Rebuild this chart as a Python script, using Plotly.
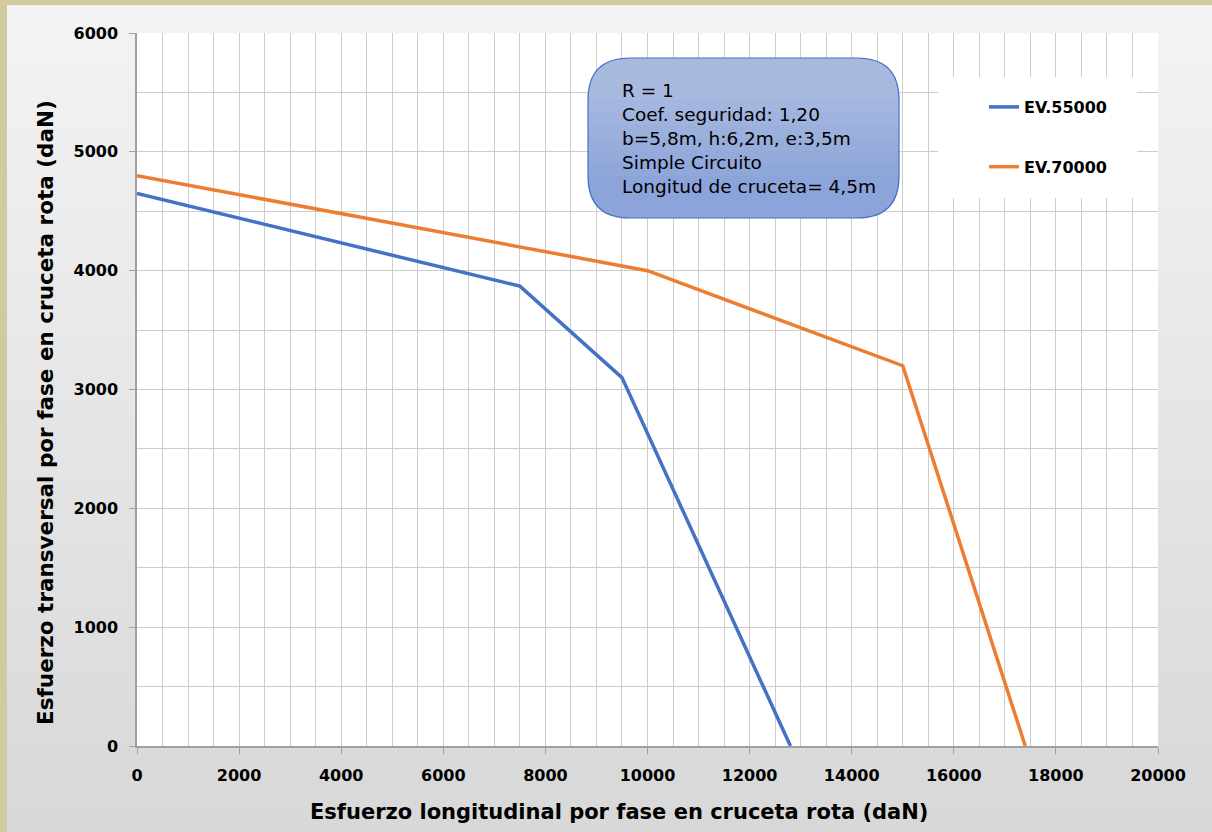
import plotly.graph_objects as go

# (daN)
ev55_x = [0, 7500, 9500, 12800]
ev55_y = [4650, 3870, 3100, 0]
ev70_x = [0, 10000, 15000, 17400]
ev70_y = [4800, 4000, 3200, 0]

series_names = ["EV.55000", "EV.70000"]
series_colors = ["#4472C4", "#ED7D31"]

x_ticks = [0, 2000, 4000, 6000, 8000, 10000, 12000, 14000, 16000, 18000, 20000]
y_ticks = [0, 1000, 2000, 3000, 4000, 5000, 6000]

x_title = "Esfuerzo longitudinal por fase en cruceta rota (daN)"
y_title = "Esfuerzo transversal por fase en cruceta rota (daN)"

note_lines = [
    "R = 1",
    "Coef. seguridad: 1,20",
    "b=5,8m, h:6,2m, e:3,5m",
    "Simple Circuito",
    "Longitud de cruceta= 4,5m",
]

W, H = 1212, 832
L, R, T, B = 137, 1158, 33, 746  # plot area in pixels


def px(x):
    return (x - L) / (R - L)


def py(y):
    return (B - y) / (B - T)


fig = go.Figure()
for xs, ys, name, col in [(ev55_x, ev55_y, series_names[0], series_colors[0]),
                          (ev70_x, ev70_y, series_names[1], series_colors[1])]:
    fig.add_trace(go.Scatter(x=xs, y=ys, mode="lines", name=name, legendgroup=name,
                             line=dict(color=col, width=3.5)))

shapes = []
# tan frame + chart-area gradient
shapes.append(dict(type="rect", xref="paper", yref="paper", x0=px(0), x1=px(W), y0=py(H), y1=py(0),
                   fillcolor="#CFCB9C", line_width=0, layer="below"))
n = 40
top, bot = 5, H
for i in range(n):
    y0 = top + (bot - top) * i / n
    y1 = top + (bot - top) * (i + 1) / n
    t = i / (n - 1)
    c = int(round(243 + (216 - 243) * t))
    shapes.append(dict(type="rect", xref="paper", yref="paper", x0=px(7), x1=px(W + 2), y0=py(y1 + 0.5),
                       y1=py(y0), fillcolor=f"rgb({c},{c},{c})", line_width=0, layer="below"))
shapes.append(dict(type="rect", xref="paper", yref="paper", x0=0, x1=1, y0=0, y1=1,
                   fillcolor="white", line_width=0, layer="below"))

# legend backdrop
shapes.append(dict(type="rect", xref="paper", yref="paper", x0=px(938), x1=px(1137), y0=py(198), y1=py(77),
                   fillcolor="white", line_width=0, layer="above"))

# rounded note box, light-to-dark blue like the source
x0, x1, y0, y1, r = 588, 899, 58, 218, 42


def rounded(a, b, c, d, rad):
    return " ".join([
        f"M {px(a + rad)},{py(c)}",
        f"L {px(b - rad)},{py(c)}",
        f"Q {px(b)},{py(c)} {px(b)},{py(c + rad)}",
        f"L {px(b)},{py(d - rad)}",
        f"Q {px(b)},{py(d)} {px(b - rad)},{py(d)}",
        f"L {px(a + rad)},{py(d)}",
        f"Q {px(a)},{py(d)} {px(a)},{py(d - rad)}",
        f"L {px(a)},{py(c + rad)}",
        f"Q {px(a)},{py(c)} {px(a + rad)},{py(c)}",
        "Z",
    ])


def lower_part(a, b, cut, d, rad):
    # flat top at `cut`, rounded bottom corners
    return " ".join([
        f"M {px(a)},{py(cut)}",
        f"L {px(b)},{py(cut)}",
        f"L {px(b)},{py(d - rad)}",
        f"Q {px(b)},{py(d)} {px(b - rad)},{py(d)}",
        f"L {px(a + rad)},{py(d)}",
        f"Q {px(a)},{py(d)} {px(a)},{py(d - rad)}",
        "Z",
    ])


shapes.append(dict(type="path", xref="paper", yref="paper", path=rounded(x0, x1, y0, y1, r),
                   fillcolor="#A8B9E0", line_width=0, layer="above"))
band_cols = ["#A4B6DF", "#A0B3DE", "#9CB0DD", "#98ADDC", "#94AADB", "#90A7DA", "#8CA4D9"]
for k, col in enumerate(band_cols):
    cut = y0 + r + k * (y1 - r - y0 - r) / (len(band_cols) - 1)
    shapes.append(dict(type="path", xref="paper", yref="paper", path=lower_part(x0, x1, cut, y1, r),
                       fillcolor=col, line_width=0, layer="above"))
shapes.append(dict(type="path", xref="paper", yref="paper", path=rounded(x0, x1, y0, y1, r),
                   fillcolor="rgba(0,0,0,0)", line=dict(color="#4472C4", width=1.2), layer="above"))

fig.add_annotation(xref="paper", yref="paper", x=px(620), y=py(78), xanchor="left", yanchor="top",
                   align="left", showarrow=False, text="<br>".join(note_lines),
                   font=dict(family="DejaVu Sans", size=18.5, color="black"))

axis_font = dict(family="DejaVu Sans", size=16, color="black", weight="bold")
title_font = dict(family="DejaVu Sans", size=21, color="black", weight="bold")

# axis titles, centred on the chart area as in the source
fig.add_annotation(xref="paper", yref="paper", x=px(619), y=py(812), xanchor="center", yanchor="middle",
                   showarrow=False, text=x_title, font=title_font)
fig.add_annotation(xref="paper", yref="paper", x=px(45), y=py(413), xanchor="center", yanchor="middle",
                   showarrow=False, text=y_title, textangle=-90,
                   font=dict(family="DejaVu Sans", size=21.5, color="black", weight="bold"))

fig.update_xaxes(range=[0, 20000], tickvals=x_ticks, ticktext=[str(v) for v in x_ticks],
                 showgrid=True, gridcolor="#CCCCCC", gridwidth=1,
                 minor=dict(dtick=500, showgrid=True, gridcolor="#CCCCCC"),
                 zeroline=False, showline=True, linecolor="#A0A0A0", linewidth=1.5,
                 ticks="outside", ticklen=6, tickcolor="#A0A0A0", tickfont=axis_font,
                 ticklabelstandoff=8)
fig.update_yaxes(range=[0, 6000], tickvals=y_ticks, ticktext=[str(v) for v in y_ticks],
                 showgrid=True, gridcolor="#CCCCCC", gridwidth=1,
                 minor=dict(dtick=500, showgrid=True, gridcolor="#CCCCCC"),
                 zeroline=False, showline=True, linecolor="#A0A0A0", linewidth=1.5,
                 ticks="outside", ticklen=6, tickcolor="#A0A0A0", tickfont=axis_font,
                 ticklabelstandoff=8)

fig.update_layout(
    width=W, height=H, autosize=False,
    margin=dict(l=L, r=W - R, t=T, b=H - B),
    paper_bgcolor="#CFCB9C", plot_bgcolor="white",
    shapes=shapes,
    legend=dict(x=px(984), y=py(90), xanchor="left", yanchor="top", bgcolor="rgba(0,0,0,0)",
                font=dict(family="DejaVu Sans", size=16, color="black", weight="bold"),
                traceorder="grouped", tracegroupgap=36),
    showlegend=True,
)

fig.write_html("out.html", config={"displayModeBar": False},
               post_script="document.body.style.margin='0';")
